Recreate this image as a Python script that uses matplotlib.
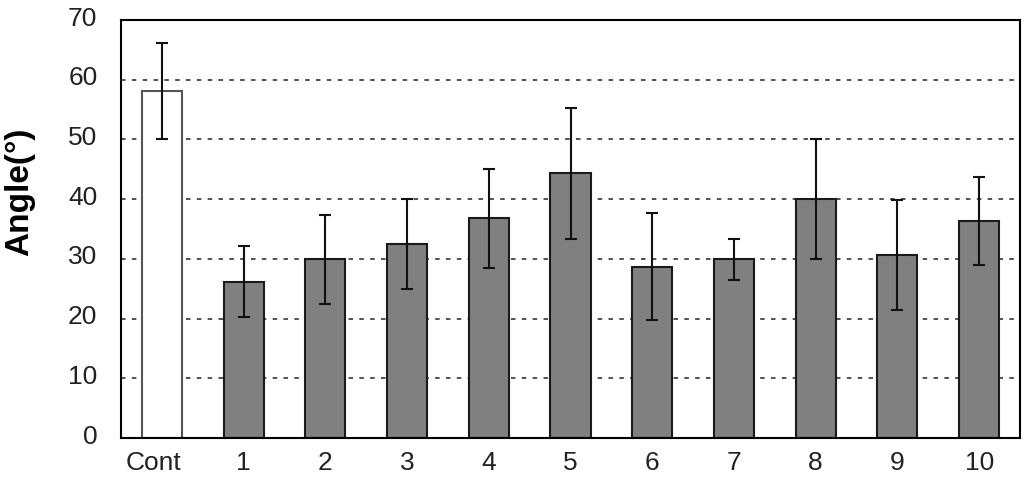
import matplotlib
matplotlib.use("Agg")
import matplotlib.pyplot as plt
import matplotlib.transforms as mtransforms
import numpy as np

categories = ["Cont", "1", "2", "3", "4", "5", "6", "7", "8", "9", "10"]
means = [58.1, 26.2, 29.9, 32.5, 36.8, 44.3, 28.7, 29.9, 40.0, 30.6, 36.3]
errors = [8.0, 6.0, 7.4, 7.5, 8.3, 11.0, 8.9, 3.5, 10.0, 9.2, 7.4]
yticks = [0, 10, 20, 30, 40, 50, 60, 70]

plt.rcParams['font.family'] = ['Liberation Sans', 'DejaVu Sans']

fig = plt.figure(figsize=(10.24, 4.83), dpi=100)
ax = fig.add_axes([121/1024, 45/483, 899/1024, 418/483])

x = np.arange(len(categories))
colors = ['white'] + ['#808080'] * (len(categories) - 1)
edges = ['#555555'] + ['#1a1a1a'] * (len(categories) - 1)

ax.set_axisbelow(True)
for yv in yticks[1:-1]:
    ax.axhline(yv, color='#444444', linestyle=(0, (2.5, 3.5)), linewidth=1.3, zorder=0)

ax.bar(x, means, width=0.49, color=colors, edgecolor=edges, linewidth=1.5, zorder=2)
ax.errorbar(x, means, yerr=errors, fmt='none', ecolor='#111111', elinewidth=1.5,
            capsize=4, capthick=1.5, zorder=3)

ax.set_xlim(-0.5, len(categories) - 0.5)
ax.set_ylim(0, 70)
ax.set_yticks(yticks)
ax.set_xticks(x)
ax.set_xticklabels(categories)
ax.tick_params(axis='both', length=0, labelsize=19, labelcolor='#222222')
ax.tick_params(axis='y', pad=17)
ax.tick_params(axis='x', pad=9)
for sp in ax.spines.values():
    sp.set_linewidth(1.5)
    sp.set_color('black')

off = mtransforms.ScaledTranslation(0, 4/100, fig.dpi_scale_trans)
for lbl in ax.get_yticklabels():
    lbl.set_transform(lbl.get_transform() + off)
offx = mtransforms.ScaledTranslation(-8/100, 0, fig.dpi_scale_trans)
xl = ax.get_xticklabels()
xl[0].set_transform(xl[0].get_transform() + offx)

fig.text(20/1024, (483-192)/483, "Angle(°)", rotation=90, fontsize=24, fontweight='bold',
         ha='center', va='center')

fig.savefig("out.png", dpi=100)
